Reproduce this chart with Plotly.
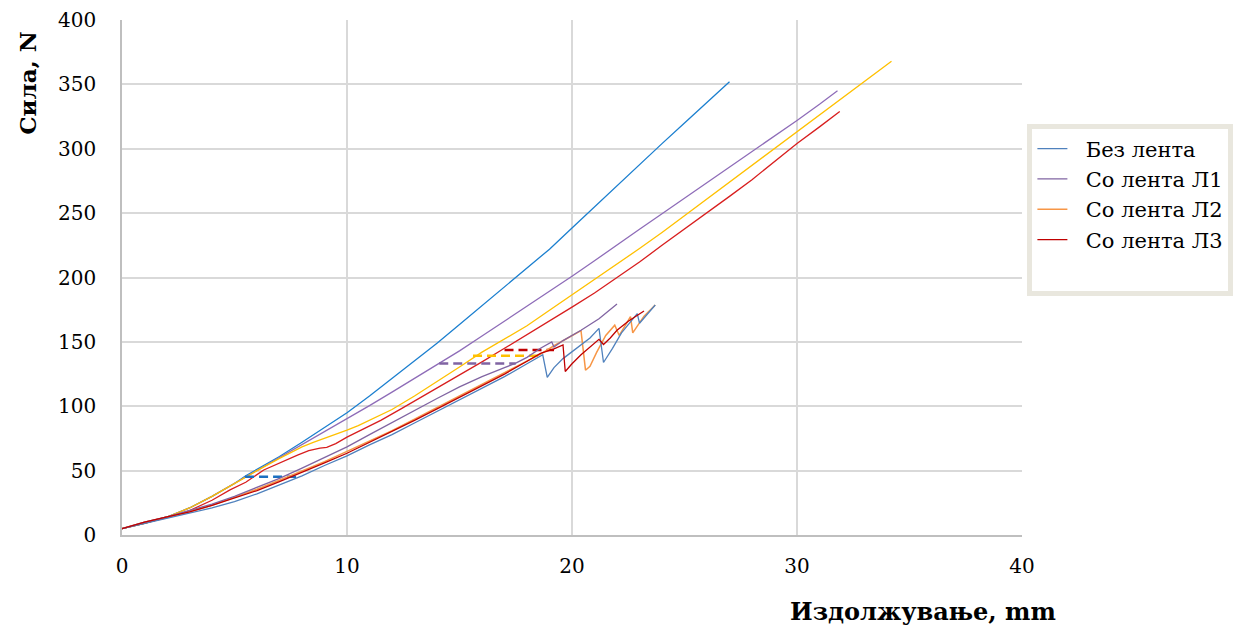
import plotly.graph_objects as go

# ---- Data (elongation mm, force N) ----
# Lower curves (legend series)
bez_x = [0, 1, 2, 3, 4, 5, 6, 7, 8, 9, 10, 11, 12, 13, 14, 15, 16, 17, 18, 18.7, 18.9, 19.2, 19.6, 20.2, 20.8, 21.2, 21.4, 21.8, 22.2, 22.9, 23.0, 23.7]
bez_y = [5, 9, 13, 17, 21, 26, 32, 39, 46, 54, 61.5, 70, 78, 87, 96, 105, 114, 123, 133, 140, 122.5, 130, 137, 145, 153, 160.5, 134, 145, 157, 172, 164.5, 178.6]

l1_x = [0, 1, 2, 3, 4, 5, 6, 7, 8, 9, 10, 11, 12, 13, 14, 15, 16, 17, 17.5, 18, 18.6, 19.1, 19.2, 19.6, 20.4, 21.2, 22.0]
l1_y = [5, 10, 14, 19, 24, 30, 37, 44, 52, 60, 68.5, 78, 87.5, 97, 106, 115, 123, 130, 133.5, 138, 145, 150, 146, 151, 159, 168, 179.4]

l2_x = [0, 1, 2, 3, 4, 5, 6, 7, 8, 9, 10, 11, 12, 13, 14, 15, 16, 17, 18, 18.6, 19.2, 19.8, 20.4, 20.6, 20.8, 21.1, 21.5, 21.9, 22.1, 22.6, 22.7, 23.2, 23.7]
l2_y = [5, 10, 14, 18, 23, 29, 35.5, 42.5, 49.5, 57, 65, 73, 81, 90, 99, 108, 117, 126, 135, 140.5, 147, 153, 158.7, 128, 131, 142, 155, 163, 155, 169.6, 157, 170, 178.6]

l3_x = [0, 1, 2, 3, 4, 5, 6, 7, 8, 9, 10, 11, 12, 13, 14, 15, 16, 17, 18, 18.6, 19.2, 19.6, 19.7, 20.0, 20.4, 20.8, 21.2, 21.4, 21.7, 22.0, 22.5, 23.2]
l3_y = [5, 10, 14, 18, 23, 28.5, 34.5, 41.5, 48.5, 56, 63.5, 72, 80, 89, 98, 107, 116, 125, 135, 141, 144.5, 147.6, 127, 133, 140, 146, 152, 148, 153, 159, 166, 174]

# Upper curves (not in legend)
bez_up_x = [0, 1, 2, 3, 4, 5, 5.5, 6, 7, 8, 9, 10, 11, 12, 13, 14, 15, 16, 17, 18, 19, 20, 21, 22, 23, 24, 25, 26, 27]
bez_up_y = [5, 9, 14, 21, 30, 40, 46, 51, 61, 72, 83.5, 95, 108, 121.5, 135, 149, 163.5, 178, 192.5, 207, 222, 238.5, 255, 271, 287.5, 304, 320, 336, 352]

l1_up_x = [0, 1, 2, 3, 4, 5, 5.5, 6, 7, 8, 9, 10, 11, 12, 13, 14, 15, 16, 17, 18, 19, 20, 21, 22, 23, 24, 25, 26, 27, 28, 29, 30, 31, 31.8]
l1_up_y = [5, 9, 14, 21, 30, 40, 45.5, 50, 60, 70, 80, 90, 100.5, 111, 121.5, 132, 143, 154.5, 166, 177.5, 189, 201, 213, 225.5, 237.5, 249.5, 261.5, 273.5, 285.5, 297.5, 309.5, 322, 334.5, 345]

l2_up_x = [0, 1, 2, 3, 4, 5, 5.5, 6, 7, 8, 8.5, 9, 9.5, 10, 10.5, 11, 11.5, 12, 13, 14, 15, 16, 17, 18, 19, 20, 21, 22, 23, 24, 25, 26, 27, 28, 29, 30, 31, 32, 33, 34.2]
l2_up_y = [5, 9, 14, 21, 30, 40, 45.5, 50, 59.5, 68.5, 72, 75, 78, 81.5, 85, 89, 93, 97.5, 108, 119, 130.5, 142, 152.5, 162.5, 174.5, 186.5, 198, 210, 222.5, 235, 248, 261, 274, 287, 300, 313, 326, 339, 352, 368]

l3_up_x = [0, 1, 2, 3, 4, 4.8, 5.5, 6.3, 7, 7.8, 8.3, 8.8, 9.1, 9.5, 10, 10.5, 11, 11.5, 12.4, 13, 14, 15, 16, 17, 18, 19, 20, 21, 22, 23, 24, 25, 26, 27, 28, 29, 30, 31, 31.9]
l3_up_y = [5, 9, 13.5, 19, 27, 35, 41, 50.5, 56, 62, 65.5, 67.5, 68, 71, 76, 80.5, 85, 89, 98, 104, 114, 124.5, 134.5, 145, 155.5, 166, 177, 188, 200, 212, 225, 237.5, 250, 263, 276, 290, 304, 317, 329]

# Dashed connectors: [x_start, x_end], level
dash_bez_x = [5.47, 7.76]
dash_bez_y = [45.3, 45.3]
dash_l1_x = [14.1, 17.5]
dash_l1_y = [133.3, 133.3]
dash_l2_x = [15.6, 18.6]
dash_l2_y = [139.3, 139.3]
dash_l3_x = [17.0, 19.2]
dash_l3_y = [143.7, 143.7]

names = ["Без лента", "Со лента Л1", "Со лента Л2", "Со лента Л3"]
x_ticks = [0, 10, 20, 30, 40]
y_ticks = [0, 50, 100, 150, 200, 250, 300, 350, 400]

FONT = "DejaVu Serif, Liberation Serif, serif"
PAD = "\u00a0\u00a0"

fig = go.Figure()

def line(x, y, color, width=1.3, name=None, legend=False, dash=None, rank=None):
    fig.add_trace(go.Scatter(
        x=x, y=y, mode="lines", name=name, showlegend=legend,
        line=dict(color=color, width=width, dash=dash),
        legendrank=rank if rank is not None else 1000,
        hoverinfo="skip"))

# upper curves
line(bez_up_x, bez_up_y, "#1B7FCF")
line(l1_up_x, l1_up_y, "#8E6CB8")
line(l2_up_x, l2_up_y, "#FFC000")
line(l3_up_x, l3_up_y, "#D81E1E")

# dashed connectors
line(dash_bez_x, dash_bez_y, "#1B6FC0", width=2.5, dash="9px,5px")
line(dash_l1_x, dash_l1_y, "#8064A2", width=2.5, dash="9px,5px")
line(dash_l2_x, dash_l2_y, "#FFC000", width=2.5, dash="9px,5px")
line(dash_l3_x, dash_l3_y, "#C00000", width=2.5, dash="9px,5px")

# lower curves (legend)
line(l2_x, l2_y, "#F79646", width=1.5, name=PAD + names[2], legend=True, rank=3)
line(bez_x, bez_y, "#4F81BD", width=1.3, name=PAD + names[0], legend=True, rank=1)
line(l1_x, l1_y, "#8064A2", width=1.3, name=PAD + names[1], legend=True, rank=2)
line(l3_x, l3_y, "#C00000", width=1.3, name=PAD + names[3], legend=True, rank=4)

# blank spacer row at bottom of legend box
fig.add_trace(go.Scatter(x=[0], y=[5], mode="lines", name=" ", showlegend=True,
                         opacity=0, line=dict(width=0, color="white"),
                         legendrank=5, hoverinfo="skip"))

fig.update_layout(
    width=1238, height=633,
    margin=dict(l=122, r=216, t=20, b=98, autoexpand=False),
    paper_bgcolor="white", plot_bgcolor="white",
    font=dict(family=FONT, size=20, color="#000000"),
    legend=dict(
        x=1.006, y=0.799, xanchor="left", yanchor="top",
        bgcolor="white", bordercolor="#E9E7DE", borderwidth=5,
        font=dict(family=FONT, size=21, color="#000000"),
        traceorder="normal", itemwidth=30, tracegroupgap=0,
    ),
    xaxis=dict(
        range=[0, 40], tickvals=x_ticks, ticktext=[str(v) for v in x_ticks],
        showgrid=True, gridcolor="#D9D9D9", gridwidth=1.5,
        showline=True, linecolor="#BFBFBF", linewidth=1.5,
        zeroline=False, ticks="", ticklabelstandoff=12,
        tickfont=dict(family=FONT, size=20),
    ),
    yaxis=dict(
        range=[0, 400], tickvals=y_ticks, ticktext=[str(v) for v in y_ticks],
        showgrid=True, gridcolor="#D9D9D9", gridwidth=1.5,
        showline=True, linecolor="#BFBFBF", linewidth=1.5,
        zeroline=False, ticks="", ticklabelstandoff=20,
        tickfont=dict(family=FONT, size=20),
    ),
    annotations=[
        dict(text="<b>Сила, N</b>", xref="paper", yref="paper",
             x=-0.105, y=0.982, xanchor="center", yanchor="top",
             textangle=-90, showarrow=False,
             font=dict(family=FONT, size=23, color="#000000")),
        dict(text="<b>Издолжување, mm</b>", xref="paper", yref="paper",
             x=0.89, y=-0.1495, xanchor="center", yanchor="middle",
             showarrow=False,
             font=dict(family=FONT, size=24, color="#000000")),
    ],
)

fig.write_html("out.html", config={"displayModeBar": False},
               post_script="document.body.style.margin='0';document.body.style.overflow='hidden';")
